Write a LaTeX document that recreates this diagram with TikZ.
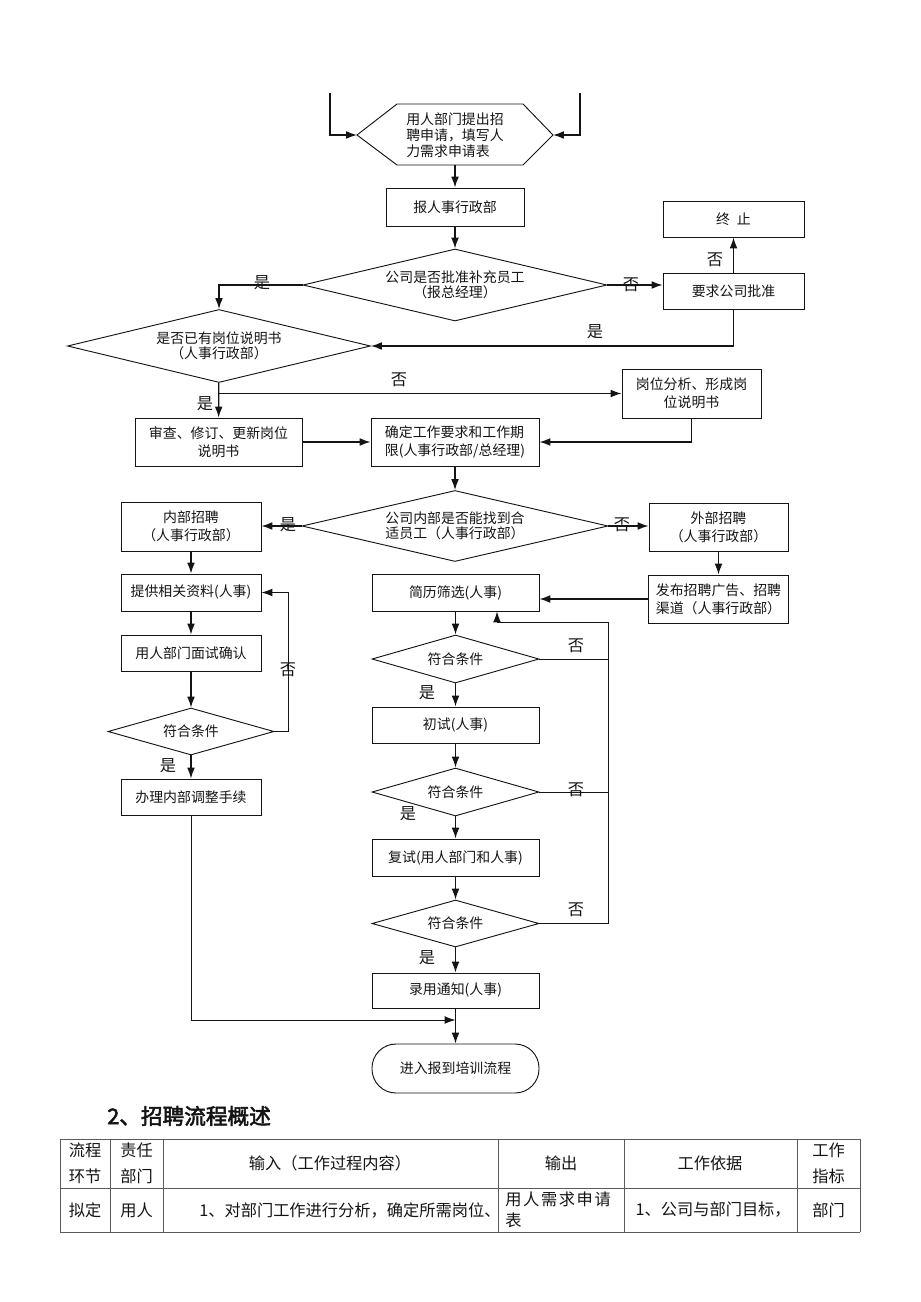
\documentclass[tikz,border=0pt]{standalone}
\usepackage{fontspec}
\usepackage{xcolor}
\newfontfamily\cjk[AutoFakeBold=2.5]{Noto Sans CJK SC}
\newfontfamily\cjkwide[LetterSpace=10]{Noto Sans CJK SC}
\usetikzlibrary{shapes.geometric, arrows.meta, positioning, calc}
\definecolor{Ink}{RGB}{20, 20, 20}
\definecolor{Rule}{RGB}{90, 90, 90}
\newcommand\pxu{0.6468pt}

\begin{document}
\begin{tikzpicture}[x=0.6468pt, y=-0.6468pt, draw=Ink, text=Ink,
    box/.style={draw, line width=0.6pt, align=center, inner sep=1pt,
        font=\cjk\fontsize{9}{11.5}\selectfont},
    dec/.style={draw, diamond, aspect=4, inner sep=0pt, line width=0.6pt,
        align=center, font=\cjk\fontsize{9}{9.5}\selectfont},
    arr/.style={-{Latex[length=7pt,width=5pt]}, line width=0.8pt},
    thin/.style={line width=0.6pt},
    lab/.style={font=\cjk\fontsize{10.5}{10.5}\selectfont, inner sep=0pt},
    cell/.style={font=\cjk\fontsize{10.5}{16.5}\selectfont, align=center, inner sep=0pt}]
            \useasboundingbox (0,0) rectangle (920,1302);

            \coordinate (inL) at (330,93);
            \coordinate (inR) at (580,93);
            \coordinate (hexL) at (357,135);
            \coordinate (hexR) at (553,135);
            \coordinate (hexB) at (455,165);
            \draw[thin] (hexL) -- (397,104) -- (523,104) -- (hexR) -- (523,165) -- (397,165) -- cycle;
            \node (apply) at (455,135) [align=left, inner sep=0pt, font=\cjk\fontsize{9}{10.5}\selectfont] {用人部门提出招\\聘申请，填写人\\力需求申请表};

            \node[box, minimum width=138*\pxu, minimum height=38*\pxu] (report) at (455,207) {报人事行政部};
            \node[dec, minimum width=304*\pxu, minimum height=72*\pxu] (approve) at (455,285) {公司是否批准补充员工\\（报总经理）};
            \node[box, minimum width=141*\pxu, minimum height=36*\pxu] (request) at (733.5,291) {要求公司批准};
            \node[box, minimum width=141*\pxu, minimum height=36*\pxu] (stop) at (733.5,219) {终\hspace{0.5em}止};
            \node[dec, minimum width=303*\pxu, minimum height=73*\pxu] (hasdesc) at (219,346) {是否已有岗位说明书\\（人事行政部）};
            \node[box, minimum width=167*\pxu, minimum height=48*\pxu] (review) at (218.5,442) {审查、修订、更新岗位\\说明书};
            \node[box, minimum width=139*\pxu, minimum height=49*\pxu] (analyse) at (691.5,393.5) {岗位分析、形成岗\\位说明书};
            \node[box, minimum width=168*\pxu, minimum height=48*\pxu, align=left] (define) at (455,442) {确定工作要求和工作期\\限(人事行政部/总经理)};
            \node[dec, minimum width=306*\pxu, minimum height=71*\pxu, align=left] (findin) at (455,526) {公司内部是否能找到合\\适员工（人事行政部）};

            \node[box, minimum width=140*\pxu, minimum height=49*\pxu] (internal) at (191,526.5) {内部招聘\\（人事行政部）};
            \node[box, minimum width=140*\pxu, minimum height=37*\pxu] (provide) at (191,592.5) {提供相关资料(人事)};
            \node[box, minimum width=140*\pxu, minimum height=36*\pxu] (interview) at (191,653) {用人部门面试确认};
            \node[dec, minimum width=166*\pxu, minimum height=47*\pxu] (checkin) at (191,731.5) {符合条件};
            \node[box, minimum width=140*\pxu, minimum height=36*\pxu] (adjust) at (191,797) {办理内部调整手续};

            \node[box, minimum width=139*\pxu, minimum height=48*\pxu] (external) at (718.5,527) {外部招聘\\（人事行政部）};
            \node[box, minimum width=140*\pxu, minimum height=48*\pxu, align=left] (publish) at (718.5,599) {发布招聘广告、招聘\\渠道（人事行政部）};

            \node[box, minimum width=167*\pxu, minimum height=37*\pxu] (screen) at (455.5,592.5) {简历筛选(人事)};
            \node[dec, minimum width=167*\pxu, minimum height=48*\pxu] (checka) at (455.5,659) {符合条件};
            \node[box, minimum width=167*\pxu, minimum height=36*\pxu] (first) at (455.5,725) {初试(人事)};
            \node[dec, minimum width=167*\pxu, minimum height=48*\pxu] (checkb) at (455.5,792) {符合条件};
            \node[box, minimum width=167*\pxu, minimum height=37*\pxu] (second) at (455.5,857.5) {复试(用人部门和人事)};
            \node[dec, minimum width=167*\pxu, minimum height=47*\pxu] (checkc) at (455.5,923.5) {符合条件};
            \node[box, minimum width=167*\pxu, minimum height=35*\pxu] (hire) at (455.5,990.5) {录用通知(人事)};
            \node[box, rounded corners=15.5pt, minimum width=167*\pxu, minimum height=49*\pxu] (onboard) at (455.5,1068.5) {进入报到培训流程};

            \coordinate (back) at (608,622);
            \coordinate (backin) at (497,622);
            \coordinate (join) at (455.5,1020);

            \draw[arr] (inL) |- (hexL);
            \draw[arr] (inR) |- (hexR);
            \draw[arr] (hexB) -- (report);
            \draw[arr] (report) -- (approve);
            \draw[arr] (approve.west) -| (hasdesc.north);
            \draw[arr] (approve.east) -- (approve.east -| request.west);
            \draw[arr] (request) -- (stop);
            \draw[arr] (request.south) |- (hasdesc.east);
            \draw[arr] (hasdesc) -- (review);
            \draw[arr] (hasdesc.south |- analyse.west) -- (analyse.west);
            \draw[arr] (review) -- (define);
            \draw[arr] (analyse.south) |- (define.east);
            \draw[arr] (define) -- (findin);
            \draw[arr] (findin.west) -- (findin.west -| internal.east);
            \draw[arr] (findin.east) -- (findin.east -| external.west);

            \draw[arr] (internal) -- (provide);
            \draw[arr] (provide) -- (interview);
            \draw[arr] (interview) -- (checkin);
            \draw[arr] (checkin) -- (adjust);
            \draw[arr, thin] (checkin.east) -- ++(14,0) |- (provide.east);
            \draw[arr, thin] (adjust.south) |- (join);

            \draw[arr] (external) -- (publish);
            \draw[arr] (publish.west) -- (publish.west -| screen.east);
            \draw[arr] (screen) -- (checka);
            \draw[arr] (checka) -- (first);
            \draw[arr] (first) -- (checkb);
            \draw[arr] (checkb) -- (second);
            \draw[arr] (second) -- (checkc);
            \draw[arr] (checkc) -- (hire);
            \draw[arr] (hire) -- (onboard);
            \draw[arr, thin] (checka.east) -| (back) -- (backin) -- (backin |- screen.south);
            \draw[thin] (checkb.east) -- (checkb.east -| back);
            \draw[thin] (checkc.east) -| (back);

            \node[lab] (l1) at (262,283) {是};
            \node[lab] (l2) at (631,285) {否};
            \node[lab] (l3) at (715,260) {否};
            \node[lab] (l4) at (595,332) {是};
            \node[lab] (l5) at (205,404) {是};
            \node[lab] (l6) at (399,380) {否};
            \node[lab] (l7) at (288,525) {是};
            \node[lab] (l8) at (622,525) {否};
            \node[lab] (l9) at (288,670) {否};
            \node[lab] (l10) at (168,766) {是};
            \node[lab] (l11) at (576,646) {否};
            \node[lab] (l12) at (427,693) {是};
            \node[lab] (l13) at (576,790) {否};
            \node[lab] (l14) at (408,814) {是};
            \node[lab] (l15) at (576,910) {否};
            \node[lab] (l16) at (427,958) {是};

            \node[anchor=west, inner sep=0pt, font=\cjk\bfseries\fontsize{14}{14}\selectfont] (title) at (107,1116) {2、招聘流程概述};

            \foreach \yy in {1139,1188,1232}
                \draw[Rule, line width=0.6pt] (60,\yy) -- (860,\yy);
            \foreach \xx in {60,110,163,498,624,797,860}
                \draw[Rule, line width=0.6pt] (\xx,1139) -- (\xx,1232);

            \node[cell] (h1) at (85,1163.5) {流程\\环节};
            \node[cell] (h2) at (136.5,1163.5) {责任\\部门};
            \node[cell] (h3) at (330,1163.5) {输入（工作过程内容）};
            \node[cell] (h4) at (561,1163.5) {输出};
            \node[cell] (h5) at (710,1163.5) {工作依据};
            \node[cell] (h6) at (828.5,1163.5) {工作\\指标};
            \node[cell] (r1) at (85,1210) {拟定};
            \node[cell] (r2) at (136.5,1210) {用人};
            \node[cell, anchor=west] (r3) at (199,1210) {1、对部门工作进行分析，确定所需岗位、};
            \node[cell, anchor=north west, align=left, font=\cjkwide\fontsize{10.5}{13.5}\selectfont] (r4) at (505,1192) {用人需求申请\\表};
            \node[cell, anchor=east] (r5) at (791,1210) {1、公司与部门目标，};
            \node[cell] (r6) at (828.5,1210) {部门};
        \end{tikzpicture}
\end{document}
